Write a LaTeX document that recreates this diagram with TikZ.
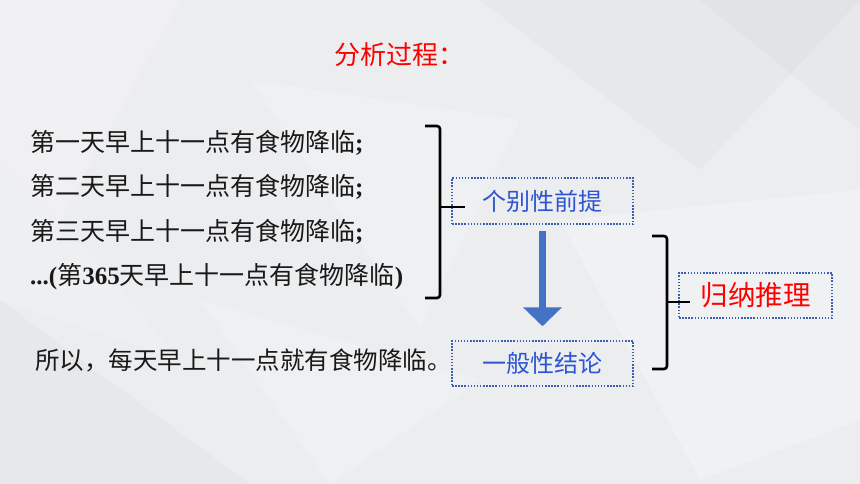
\documentclass[tikz,border=0pt]{standalone}
\usepackage{fontspec}
\newfontfamily\cjk{Noto Sans CJK SC}
\newfontfamily\tnr{Liberation Serif}
\usetikzlibrary{arrows.meta}
\definecolor{bg}{RGB}{236,237,239}
\definecolor{txtblue}{RGB}{45,85,210}
\definecolor{boxblue}{RGB}{60,95,175}
\definecolor{arrblue}{RGB}{68,114,196}
\tikzset{
  line/.style={anchor=west,inner sep=0pt,font=\fontsize{25}{28}\selectfont\cjk,text=black!90},
  dotbox/.style={draw=boxblue,line width=1.5pt,dash pattern=on 1.5pt off 1.6pt,
     minimum width=181pt,minimum height=46pt,inner sep=0pt,text=txtblue,
     font=\fontsize{24}{28}\selectfont\cjk},
  brace/.style={line width=2.6pt,rounded corners=3pt},
}
\begin{document}
\begin{tikzpicture}[x=1pt,y=-1pt]
\useasboundingbox (0,0) rectangle (860,484);
% background
\fill[bg] (0,0) rectangle (860,484);
\fill[white,opacity=0.22] (0,0) -- (180,0) -- (60,220) -- (0,160) -- cycle;
\fill[white,opacity=0.18] (250,80) -- (520,120) -- (420,330) -- cycle;
\fill[black,opacity=0.02] (480,0) -- (860,0) -- (700,170) -- cycle;
\fill[white,opacity=0.25] (560,220) -- (860,190) -- (860,420) -- (700,480) -- cycle;
\fill[black,opacity=0.02] (0,300) -- (250,484) -- (0,484) -- cycle;
\fill[white,opacity=0.18] (200,300) -- (480,380) -- (330,484) -- cycle;
\fill[black,opacity=0.02] (700,0) -- (860,0) -- (860,130) -- cycle;
\fill[white,opacity=0.15] (0,160) -- (60,220) -- (180,360) -- (0,300) -- cycle;
% title
\node[inner sep=0pt,text=red,font=\fontsize{26}{30}\selectfont\cjk] (title) at (399,55) {分析过程：};
% premises
\node[line] (l1) at (30,143) {第一天早上十一点有食物降临\tnr\bfseries;};
\node[line] (l2) at (30,187) {第二天早上十一点有食物降临\tnr\bfseries;};
\node[line] (l3) at (30,232) {第三天早上十一点有食物降临\tnr\bfseries;};
\node[line] (l4) at (30,277) {{\tnr\bfseries...(}第{\tnr\bfseries 365}天早上十一点有食物降临{\tnr\bfseries)}};
\node[line,font=\fontsize{24.5}{28}\selectfont\cjk] (l5) at (35,360) {所以，每天早上十一点就有食物降临。};
% boxes
\node[dotbox] (b1) at (542.5,201) {个别性前提};
\node[dotbox,minimum height=45pt] (b2) at (542.5,363.5) {一般性结论};
\node[dotbox,minimum width=153pt,minimum height=45pt,text=red,font=\fontsize{27.5}{30}\selectfont\cjk] (b3) at (755.5,295.5) {归纳推理};
% braces
\coordinate (t1) at (440,207);
\draw[brace] (425,126) -- (440,126) -- (440,298) -- (425,298);
\draw[line width=2.6pt] (t1) -- ++(25,0);
\coordinate (t2) at (667,302);
\draw[brace] (652,236) -- (667,236) -- (667,369) -- (652,369);
\draw[line width=2.6pt] (t2) -- ++(23,0);
% arrow
\draw[arrblue,line width=7pt,-{Triangle[width=38pt,length=19pt]}] ([yshift=-6pt]b1.south) -- ([yshift=14pt]b2.north);
\end{tikzpicture}
\end{document}
